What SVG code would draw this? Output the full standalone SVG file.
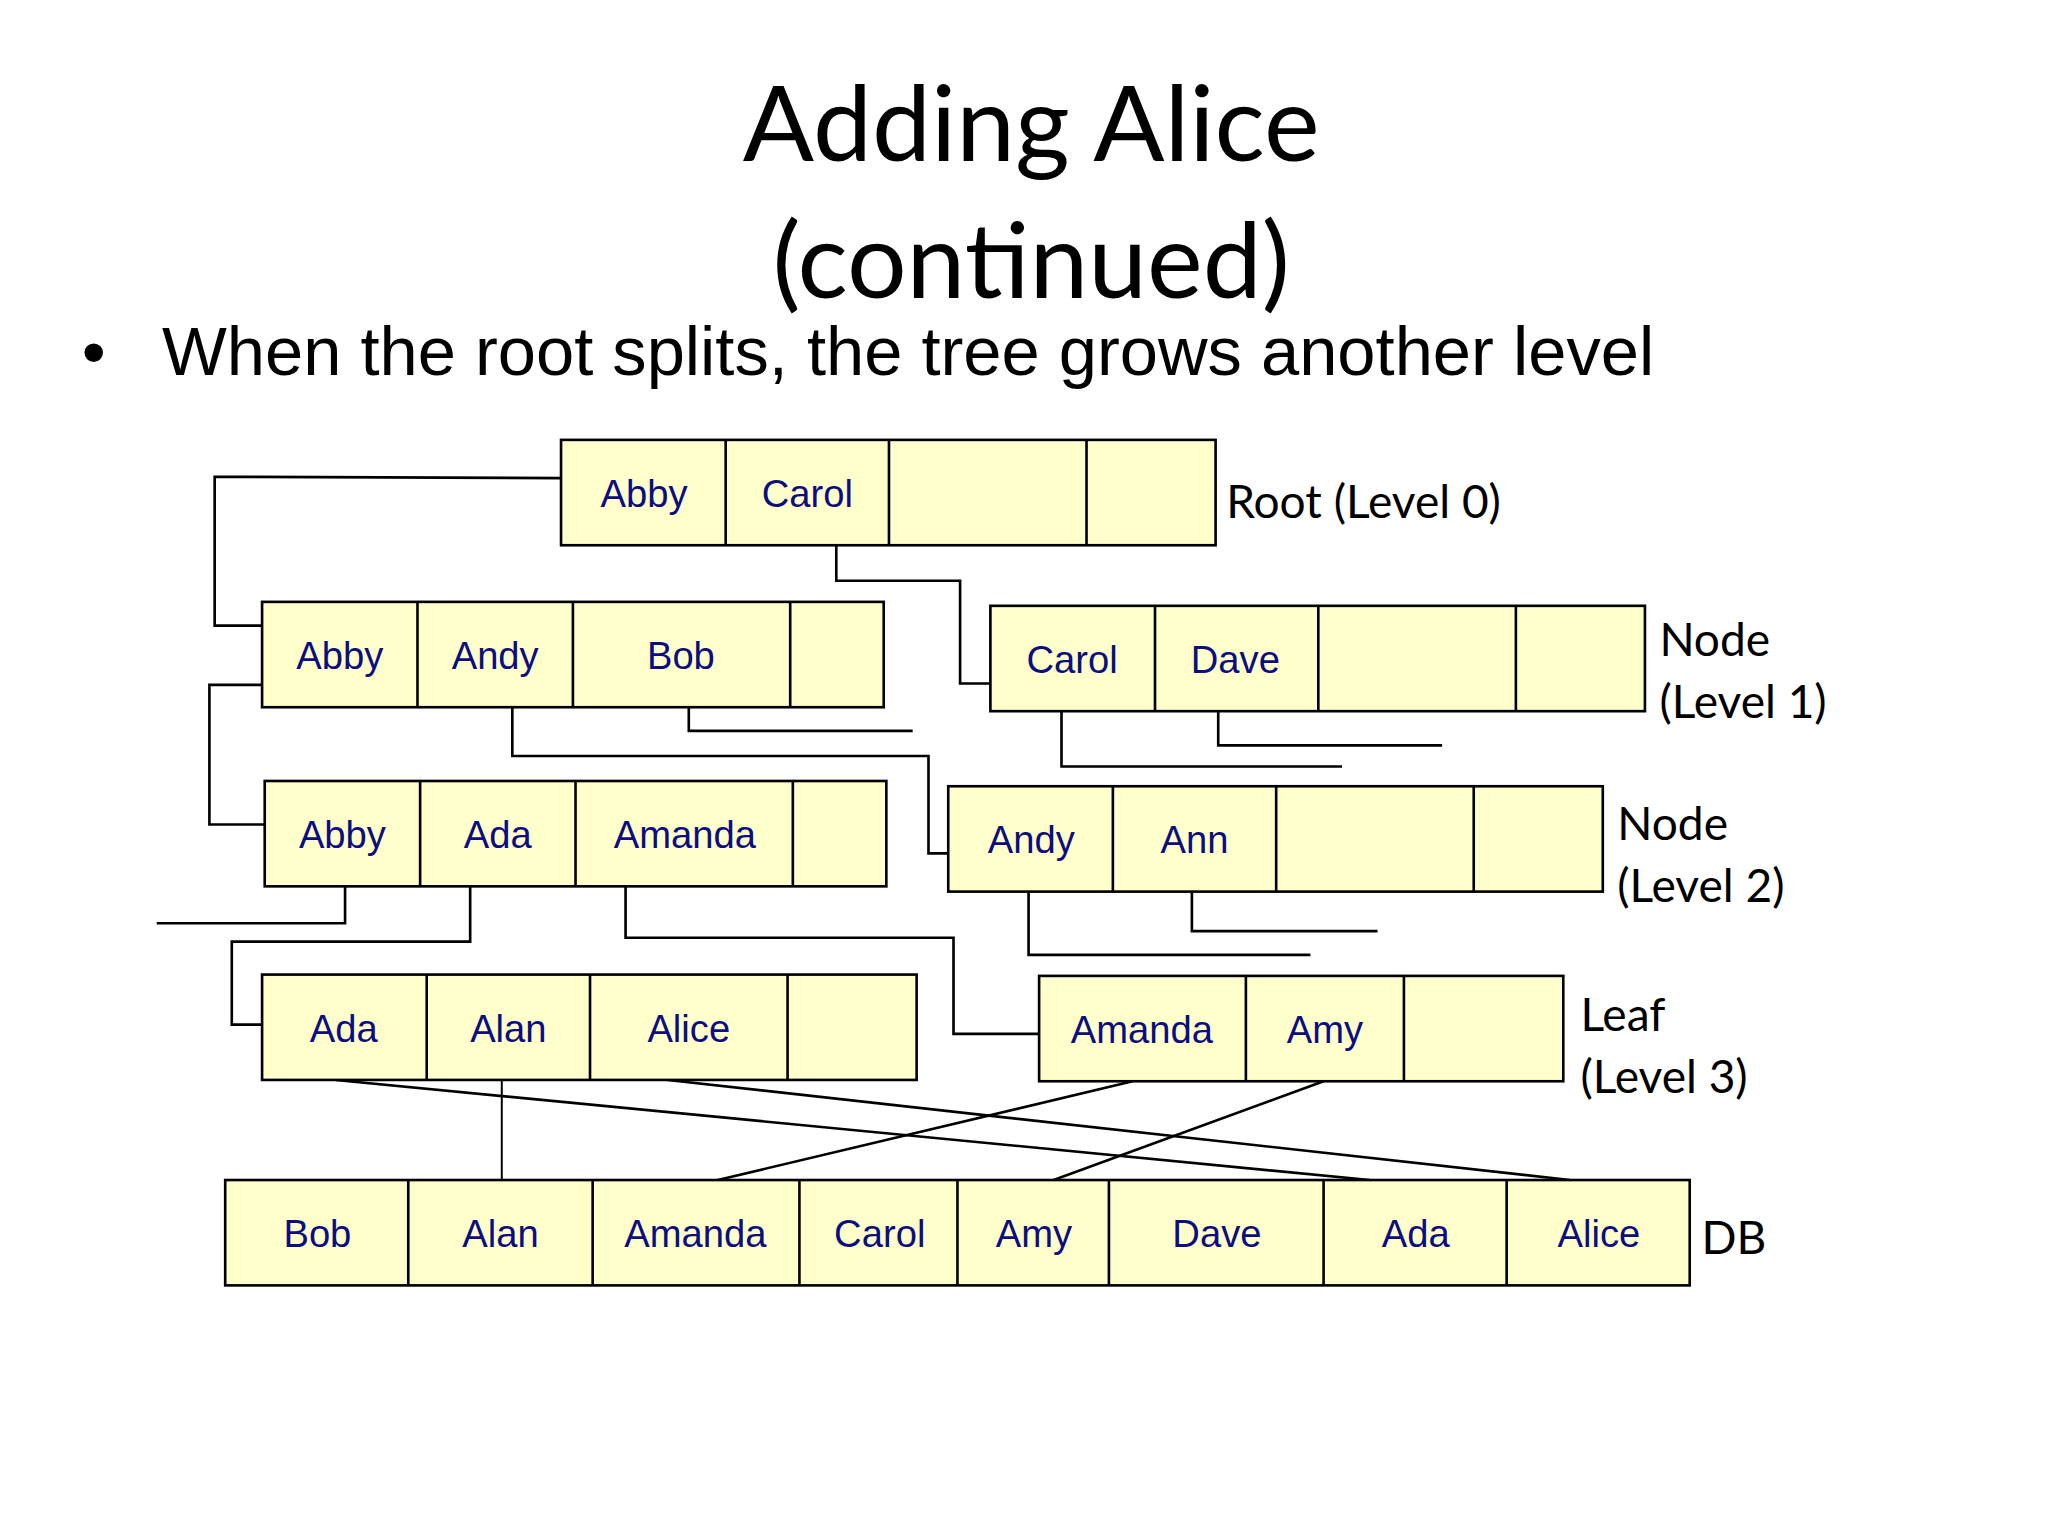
<svg xmlns="http://www.w3.org/2000/svg" width="2048" height="1536" viewBox="0 0 2048 1536">
<style>
.b{fill:#ffffcc;stroke:#000;stroke-width:2}
.d{stroke:#000;stroke-width:2}
.t{font-family:"Liberation Sans",Arial,sans-serif;font-size:29px;fill:#0d0d80;text-anchor:middle}
.l{font-family:Lato,"Open Sans",sans-serif;font-size:35px;fill:#000}
.c{fill:none;stroke:#000;stroke-width:2}
</style>
<rect width="2048" height="1536" fill="#fff"/>
<g transform="scale(1.317)">
<text x="783" y="122" font-family="Lato,'Open Sans',sans-serif" font-size="80" text-anchor="middle">Adding Alice</text>
<text x="783" y="226" font-family="Lato,'Open Sans',sans-serif" font-size="80" text-anchor="middle">(continued)</text>
<text x="62" y="285" font-family="'Liberation Sans',Arial,sans-serif" font-size="52">•</text>
<text x="123" y="285" font-family="'Liberation Sans',Arial,sans-serif" font-size="52" textLength="1133" lengthAdjust="spacingAndGlyphs">When the root splits, the tree grows another level</text>

<g id="connectors" class="c">
<polyline points="426,363 163,362 163,475 199,475"/>
<polyline points="635,414 635,441 729,441 729,519 752,519"/>
<polyline points="199,520 159,520 159,626 201,626"/>
<polyline points="389,537 389,574 705,574 705,648 720,648"/>
<polyline points="523,537 523,555 693,555"/>
<polyline points="806,540 806,582 1019,582"/>
<polyline points="925,540 925,566 1095,566"/>
<polyline points="262,673 262,701 119,701"/>
<polyline points="357,673 357,715 176,715 176,778 199,778"/>
<polyline points="475,673 475,712 724,712 724,785 789,785"/>
<polyline points="781,677 781,725 995,725"/>
<polyline points="905,677 905,707 1046,707"/>
<line x1="255" y1="820" x2="1040" y2="896"/>
<line x1="507" y1="820" x2="1192" y2="896"/>
<line x1="381" y1="820" x2="381" y2="896" stroke-width="1.5"/>
<line x1="860" y1="821" x2="545" y2="896"/>
<line x1="1005" y1="821" x2="800" y2="896"/>
</g>

<g id="root">
<rect class="b" x="426" y="334" width="497" height="80"/>
<line class="d" x1="551" y1="334" x2="551" y2="414"/><line class="d" x1="675" y1="334" x2="675" y2="414"/><line class="d" x1="825" y1="334" x2="825" y2="414"/>
<text class="t" x="489" y="385">Abby</text><text class="t" x="613" y="385">Carol</text>
<text class="l" x="931" y="393">Root (Level 0)</text>
</g>
<g id="l1a">
<rect class="b" x="199" y="457" width="472" height="80"/>
<line class="d" x1="317" y1="457" x2="317" y2="537"/><line class="d" x1="435" y1="457" x2="435" y2="537"/><line class="d" x1="600" y1="457" x2="600" y2="537"/>
<text class="t" x="258" y="508">Abby</text><text class="t" x="376" y="508">Andy</text><text class="t" x="517" y="508">Bob</text>
</g>
<g id="l1b">
<rect class="b" x="752" y="460" width="497" height="80"/>
<line class="d" x1="877" y1="460" x2="877" y2="540"/><line class="d" x1="1001" y1="460" x2="1001" y2="540"/><line class="d" x1="1151" y1="460" x2="1151" y2="540"/>
<text class="t" x="814" y="511">Carol</text><text class="t" x="938" y="511">Dave</text>
<text class="l" x="1260" y="498">Node</text><text class="l" x="1260" y="545">(Level 1)</text>
</g>
<g id="l2a">
<rect class="b" x="201" y="593" width="472" height="80"/>
<line class="d" x1="319" y1="593" x2="319" y2="673"/><line class="d" x1="437" y1="593" x2="437" y2="673"/><line class="d" x1="602" y1="593" x2="602" y2="673"/>
<text class="t" x="260" y="644">Abby</text><text class="t" x="378" y="644">Ada</text><text class="t" x="520" y="644">Amanda</text>
</g>
<g id="l2b">
<rect class="b" x="720" y="597" width="497" height="80"/>
<line class="d" x1="845" y1="597" x2="845" y2="677"/><line class="d" x1="969" y1="597" x2="969" y2="677"/><line class="d" x1="1119" y1="597" x2="1119" y2="677"/>
<text class="t" x="783" y="648">Andy</text><text class="t" x="907" y="648">Ann</text>
<text class="l" x="1228" y="638">Node</text><text class="l" x="1228" y="685">(Level 2)</text>
</g>
<g id="l3a">
<rect class="b" x="199" y="740" width="497" height="80"/>
<line class="d" x1="324" y1="740" x2="324" y2="820"/><line class="d" x1="448" y1="740" x2="448" y2="820"/><line class="d" x1="598" y1="740" x2="598" y2="820"/>
<text class="t" x="261" y="791">Ada</text><text class="t" x="386" y="791">Alan</text><text class="t" x="523" y="791">Alice</text>
</g>
<g id="l3b">
<rect class="b" x="789" y="741" width="398" height="80"/>
<line class="d" x1="946" y1="741" x2="946" y2="821"/><line class="d" x1="1066" y1="741" x2="1066" y2="821"/>
<text class="t" x="867" y="792">Amanda</text><text class="t" x="1006" y="792">Amy</text>
<text class="l" x="1200" y="783">Leaf</text><text class="l" x="1200" y="830">(Level 3)</text>
</g>
<g id="db">
<rect class="b" x="171" y="896" width="1112" height="80"/>
<line class="d" x1="310" y1="896" x2="310" y2="976"/><line class="d" x1="450" y1="896" x2="450" y2="976"/><line class="d" x1="607" y1="896" x2="607" y2="976"/><line class="d" x1="727" y1="896" x2="727" y2="976"/><line class="d" x1="842" y1="896" x2="842" y2="976"/><line class="d" x1="1005" y1="896" x2="1005" y2="976"/><line class="d" x1="1144" y1="896" x2="1144" y2="976"/>
<text class="t" x="241" y="947">Bob</text><text class="t" x="380" y="947">Alan</text><text class="t" x="528" y="947">Amanda</text><text class="t" x="668" y="947">Carol</text><text class="t" x="785" y="947">Amy</text><text class="t" x="924" y="947">Dave</text><text class="t" x="1075" y="947">Ada</text><text class="t" x="1214" y="947">Alice</text>
<text class="l" x="1292" y="952">DB</text>
</g>
</g>
</svg>
